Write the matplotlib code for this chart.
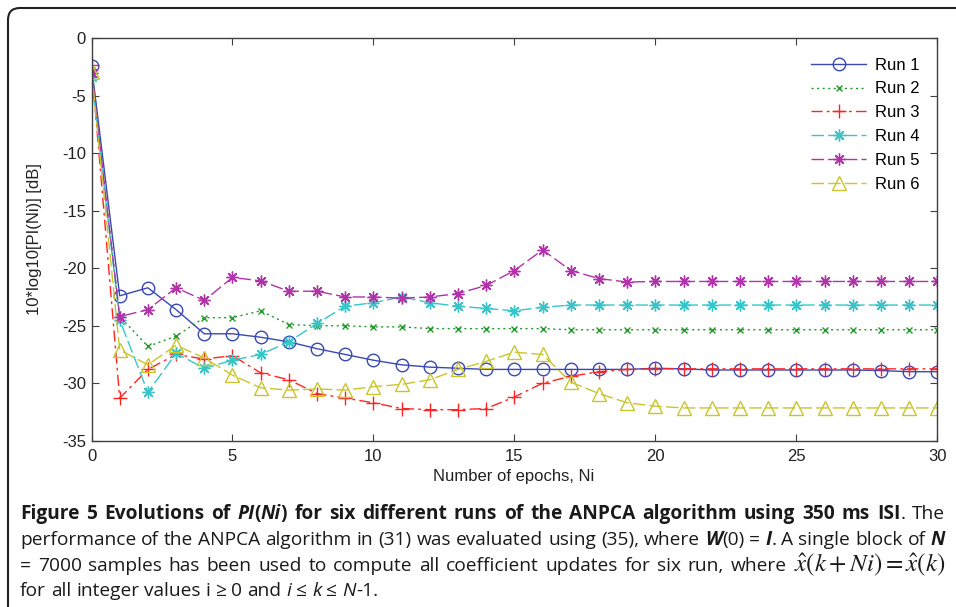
import matplotlib
matplotlib.use("Agg")
import matplotlib.pyplot as plt
from matplotlib.patches import FancyBboxPatch
from matplotlib.transforms import IdentityTransform

# data (dB values per epoch)
epochs = list(range(31))
run1 = [-2.4, -22.4, -21.7, -23.6, -25.7, -25.7, -26.0, -26.4, -27.0, -27.5, -28.0,
        -28.4, -28.6, -28.7, -28.8, -28.8, -28.8, -28.8, -28.8, -28.8, -28.7,
        -28.75, -28.85, -28.85, -28.85, -28.85, -28.85, -28.85, -28.9, -29.0, -29.0]
run2 = [-2.8, -24.2, -26.8, -25.9, -24.3, -24.3, -23.7, -24.9, -25.0, -25.0, -25.1,
        -25.1, -25.25, -25.25, -25.25, -25.25, -25.25, -25.35, -25.35, -25.35, -25.35,
        -25.35, -25.35, -25.35, -25.35, -25.35, -25.35, -25.35, -25.35, -25.35, -25.35]
run3 = [-2.3, -31.3, -28.8, -27.5, -27.9, -27.6, -29.1, -29.7, -30.9, -31.3, -31.7,
        -32.2, -32.3, -32.3, -32.2, -31.2, -30.0, -29.4, -29.0, -28.8, -28.75,
        -28.75, -28.75, -28.75, -28.75, -28.75, -28.75, -28.75, -28.75, -28.75, -28.75]
run4 = [-3.4, -24.5, -30.8, -27.4, -28.7, -28.0, -27.5, -26.4, -24.8, -23.3, -23.0,
        -22.5, -23.0, -23.3, -23.5, -23.7, -23.4, -23.2, -23.2, -23.2, -23.2,
        -23.2, -23.2, -23.2, -23.2, -23.2, -23.2, -23.2, -23.2, -23.2, -23.2]
run5 = [-3.0, -24.2, -23.6, -21.7, -22.8, -20.8, -21.1, -22.0, -22.0, -22.5, -22.5,
        -22.6, -22.5, -22.2, -21.5, -20.2, -18.4, -20.2, -20.9, -21.2, -21.15,
        -21.15, -21.15, -21.15, -21.15, -21.15, -21.15, -21.15, -21.15, -21.15, -21.15]
run6 = [-2.9, -27.1, -28.4, -26.7, -27.8, -29.3, -30.4, -30.6, -30.5, -30.6, -30.3,
        -30.1, -29.7, -28.8, -28.1, -27.3, -27.5, -29.9, -30.9, -31.7, -32.0,
        -32.15, -32.15, -32.15, -32.15, -32.15, -32.15, -32.15, -32.15, -32.15, -32.15]
labels = ["Run 1", "Run 2", "Run 3", "Run 4", "Run 5", "Run 6"]
x_ticks = [0, 5, 10, 15, 20, 25, 30]
y_ticks = [0, -5, -10, -15, -20, -25, -30, -35]

# caption lines: (text, style) segments
caption = [
    [("Figure 5 Evolutions of ", "b"), ("PI", "bi"), ("(", "b"), ("Ni", "bi"),
     (") for six different runs of the ANPCA algorithm using 350 ms ISI", "b"), (". The", "r")],
    [("performance of the ANPCA algorithm in (31) was evaluated using (35), where ", "r"),
     ("W", "bi"), ("(0) = ", "r"), ("I", "bi"), (". A single block of ", "r"), ("N", "bi")],
    [("= 7000 samples has been used to compute all coefficient updates for six run, where ", "r"),
     (r"$\hat{x}(k+Ni)=\hat{x}(k)$", "m")],
    [("for all integer values i \u2265 0 and ", "r"), ("i", "i"), (" \u2264 ", "r"), ("k", "i"),
     (" \u2264 ", "r"), ("N", "i"), ("-1.", "r")],
]

plt.rcParams['font.family'] = ['Liberation Sans', 'DejaVu Sans']
plt.rcParams['mathtext.fontset'] = 'stix'
plt.rcParams['axes.unicode_minus'] = False

W, H = 956, 607
fig = plt.figure(figsize=(W / 100, H / 100), dpi=100)
ax = fig.add_axes([91.5 / W, 1 - 440.7 / H, (937.3 - 91.5) / W, (440.7 - 38.3) / H])

styles = [
    dict(color='#3a48b4', linestyle='-', marker='o', markersize=9, mfc='none'),
    dict(color='#249a2e', linestyle=(0, (1.5, 2.5)), marker='x', markersize=5),
    dict(color='#ff2424', linestyle=(0, (8, 3, 2, 3)), marker='+', markersize=10),
    dict(color='#36c6ca', linestyle=(0, (9, 3)), marker=(8, 2, 0), markersize=8.5),
    dict(color='#b232aa', linestyle=(0, (9, 3)), marker=(8, 2, 0), markersize=8.5),
    dict(color='#c9c52c', linestyle=(0, (9, 3)), marker='^', markersize=10, mfc='none'),
]
for ys, lab, st in zip([run1, run2, run3, run4, run5, run6], labels, styles):
    ax.plot(epochs, ys, label=lab, linewidth=1, markeredgewidth=1, **st)

ax.set_xlim(0, 30)
ax.set_ylim(-35, 0)
ax.set_xticks(x_ticks)
ax.set_yticks(y_ticks)
ax.tick_params(direction='in', top=True, right=True, length=5, labelsize=12,
               color='#404040', labelcolor='#222222')
ax.tick_params(axis='x', pad=6)
ax.tick_params(axis='y', pad=4)
for sp in ax.spines.values():
    sp.set_color('#404040')
    sp.set_linewidth(1)

ax.legend(loc='upper left', bbox_to_anchor=(811 / W, 1 - 57.5 / H), bbox_transform=fig.transFigure,
          frameon=False, fontsize=12, handlelength=3.3, handletextpad=0.55,
          labelspacing=0.53, borderpad=0, borderaxespad=0)

fig.text(514 / W, 1 - 476 / H, "Number of epochs, Ni", ha='center', va='center', fontsize=12, color='#222')
fig.text(35 / W, 1 - 239.5 / H, "10*log10[PI(Ni)] [dB]", rotation=90, ha='center', va='center',
         fontsize=12, color='#222')

# outer rounded frame
frame = FancyBboxPatch((8, -100), 1100, 699, boxstyle='round,pad=0,rounding_size=12',
                       transform=IdentityTransform(), fill=False, ec='#222222', lw=1.5)
fig.add_artist(frame)

# caption, drawn word by word so the first lines can be justified
cap_size = 13.8
cap_family = ['Open Sans', 'DejaVu Sans']
renderer = fig.canvas.get_renderer()
kinds = {
    'r': dict(fontweight='normal', fontstyle='normal'),
    'b': dict(fontweight='bold', fontstyle='normal'),
    'i': dict(fontweight='normal', fontstyle='italic'),
    'bi': dict(fontweight='bold', fontstyle='italic'),
    'm': dict(fontsize=18),
}
baselines = [519, 545, 571, 596]
x_left, x_right = 20, 945
space_w = 0.26 * cap_size * 100 / 72

for k, segs in enumerate(caption):
    pieces = []
    pending = False
    for text, kind in segs:
        if kind == 'm':
            pieces.append((text, kind, pending))
            pending = False
            continue
        parts = text.split(' ')
        for j, p in enumerate(parts):
            if j > 0:
                pending = True
            if p == '':
                continue
            pieces.append((p, kind, pending))
            pending = False
    objs = []
    for text, kind, sp in pieces:
        kw = dict(fontsize=cap_size, family=cap_family, color='#1a1a1a')
        kw.update(kinds[kind])
        t = fig.text(0, 1 - baselines[k] / H, text, ha='left', va='baseline', **kw)
        w = t.get_window_extent(renderer).width
        objs.append((t, w, sp))
    n_gaps = sum(1 for o in objs if o[2])
    natural = sum(o[1] for o in objs) + n_gaps * space_w
    gap = space_w
    if k < len(caption) - 1 and n_gaps:
        gap = space_w + (x_right - x_left - natural) / n_gaps
    x = x_left
    for t, w, sp in objs:
        if sp:
            x += gap
        t.set_x(x / W)
        x += w

fig.savefig("out.png", dpi=100)
